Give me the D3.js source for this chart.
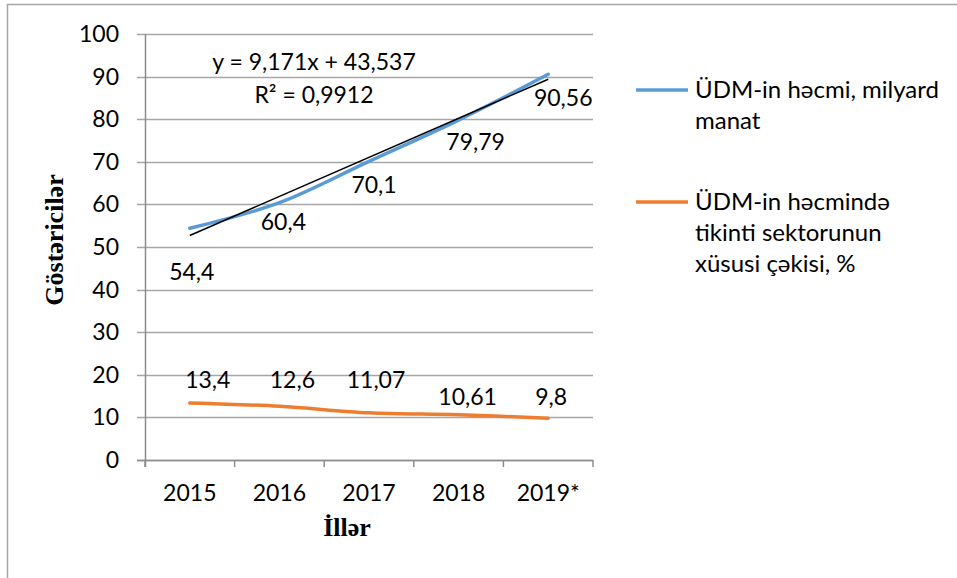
<!DOCTYPE html>
<html>
<head>
<meta charset="utf-8">
<script src="https://cdn.jsdelivr.net/npm/d3@7"></script>
<style>
  body { margin: 0; background: #fff; }
  text { font-family: Lato, "Open Sans", sans-serif; fill: #000; }
  .title { font-family: "Liberation Serif", "Times New Roman", serif; font-weight: bold; }
</style>
</head>
<body>
<svg id="vis" width="957" height="578"></svg>
<script>
// chart data
const years = ['2015', '2016', '2017', '2018', '2019*']
const gdpValues = [54.4, 60.4, 70.1, 79.79, 90.56]
const gdpLabels = ['54,4', '60,4', '70,1', '79,79', '90,56']
const shareValues = [13.4, 12.6, 11.07, 10.61, 9.8]
const shareLabels = ['13,4', '12,6', '11,07', '10,61', '9,8']
const yTicks = [0, 10, 20, 30, 40, 50, 60, 70, 80, 90, 100]
const trendSlope = 9.171, trendIntercept = 43.537
const trendText = ['y = 9,171x + 43,537', 'R² = 0,9912']
const legendNames = [['ÜDM-in həcmi, milyard', 'manat'], ['ÜDM-in həcmində', 'tikinti sektorunun', 'xüsusi çəkisi, %']]

// label nudges (the labels were dragged by hand in the original)
const gdpLabelShift = [[2, 44], [4, 19], [5, 24], [17, 22], [15, 24]]
const shareLabelShift = [[18, -23], [13, -26], [7, -33], [9, -18], [3, -21]]

const blue = '#5B9BD5', orange = '#ED7D31'
const gridColor = '#A6A6A6', axisColor = '#8C8C8C'

const svg = d3.select('#vis')

// outer frame
svg.append('rect')
    .attr('x', 7.5).attr('y', 4.5)
    .attr('width', 1000).attr('height', 700)
    .attr('fill', 'none').attr('stroke', '#A6A6A6').attr('stroke-width', 1.5)

const x = d3.scaleBand().domain(years).range([145, 593])
const y = d3.scaleLinear().domain([0, 100]).range([460, 34])
const cx = d => x(d) + x.bandwidth() / 2

// gridlines + y ticks
svg.append('g').selectAll('line')
    .data(yTicks)
    .join('line')
    .attr('x1', 137).attr('x2', 593)
    .attr('y1', d => Math.round(y(d)) + 0.5).attr('y2', d => Math.round(y(d)) + 0.5)
    .attr('stroke', gridColor).attr('stroke-width', 1.3)

svg.append('g').selectAll('text')
    .data(yTicks)
    .join('text')
    .attr('x', 119).attr('y', d => y(d))
    .attr('dy', '0.35em')
    .attr('text-anchor', 'end')
    .style('font-size', '23px')
    .text(d => d)

// axes lines
svg.append('line')
    .attr('x1', 145.5).attr('x2', 145.5).attr('y1', 34).attr('y2', 467)
    .attr('stroke', axisColor).attr('stroke-width', 1.5)
svg.append('line')
    .attr('x1', 137).attr('x2', 593).attr('y1', 460.5).attr('y2', 460.5)
    .attr('stroke', axisColor).attr('stroke-width', 1.5)

// x ticks at band edges
const edges = years.map(d => x(d)).concat([x.range()[1]])
svg.append('g').selectAll('line')
    .data(edges)
    .join('line')
    .attr('x1', d => d).attr('x2', d => d)
    .attr('y1', 460).attr('y2', 467)
    .attr('stroke', axisColor).attr('stroke-width', 1.5)

svg.append('g').selectAll('text')
    .data(years)
    .join('text')
    .attr('x', d => cx(d)).attr('y', 493)
    .attr('dy', '0.35em')
    .attr('text-anchor', 'middle')
    .style('font-size', '23px')
    .text(d => d)

// axis titles
svg.append('text')
    .attr('class', 'title')
    .attr('transform', 'translate(63,240) rotate(-90)')
    .attr('text-anchor', 'middle')
    .style('font-size', '26px')
    .text('Göstəricilər')

svg.append('text')
    .attr('class', 'title')
    .attr('x', 347).attr('y', 536)
    .attr('text-anchor', 'middle')
    .style('font-size', '26px')
    .text('İllər')

// series lines
const line = d3.line()
    .x((d, i) => cx(years[i]))
    .y(d => y(d))
    .curve(d3.curveCatmullRom)

svg.append('path')
    .attr('d', line(gdpValues))
    .attr('fill', 'none').attr('stroke', blue)
    .attr('stroke-width', 3.5).attr('stroke-linecap', 'round')

svg.append('path')
    .attr('d', line(shareValues))
    .attr('fill', 'none').attr('stroke', orange)
    .attr('stroke-width', 3.5).attr('stroke-linecap', 'round')

// linear trendline for GDP
const trendPts = [1, years.length].map(n => [cx(years[n - 1]), y(trendSlope * n + trendIntercept)])
svg.append('line')
    .attr('x1', trendPts[0][0]).attr('y1', trendPts[0][1])
    .attr('x2', trendPts[1][0]).attr('y2', trendPts[1][1])
    .attr('stroke', '#000').attr('stroke-width', 1.5)

svg.append('g').selectAll('text')
    .data(trendText)
    .join('text')
    .attr('x', 314).attr('y', (d, i) => 62 + i * 33)
    .attr('dy', '0.35em')
    .attr('text-anchor', 'middle')
    .style('font-size', '23px')
    .text(d => d)

// data labels
svg.append('g').selectAll('text')
    .data(gdpValues)
    .join('text')
    .attr('x', (d, i) => cx(years[i]) + gdpLabelShift[i][0])
    .attr('y', (d, i) => y(d) + gdpLabelShift[i][1])
    .attr('dy', '0.35em')
    .attr('text-anchor', 'middle')
    .style('font-size', '23px')
    .text((d, i) => gdpLabels[i])

svg.append('g').selectAll('text')
    .data(shareValues)
    .join('text')
    .attr('x', (d, i) => cx(years[i]) + shareLabelShift[i][0])
    .attr('y', (d, i) => y(d) + shareLabelShift[i][1])
    .attr('dy', '0.35em')
    .attr('text-anchor', 'middle')
    .style('font-size', '23px')
    .text((d, i) => shareLabels[i])

// legend
const legendY = [90, 202]
const legendColors = [blue, orange]
legendNames.forEach((lines, k) => {
    const g = svg.append('g')
    g.append('line')
        .attr('x1', 636).attr('x2', 688)
        .attr('y1', legendY[k]).attr('y2', legendY[k])
        .attr('stroke', legendColors[k]).attr('stroke-width', 3.5)
    g.selectAll('text')
        .data(lines)
        .join('text')
        .attr('x', 695).attr('y', (d, i) => legendY[k] + i * 31)
        .attr('dy', '0.35em')
        .style('font-size', '24px')
        .text(d => d)
})
</script>
</body>
</html>
